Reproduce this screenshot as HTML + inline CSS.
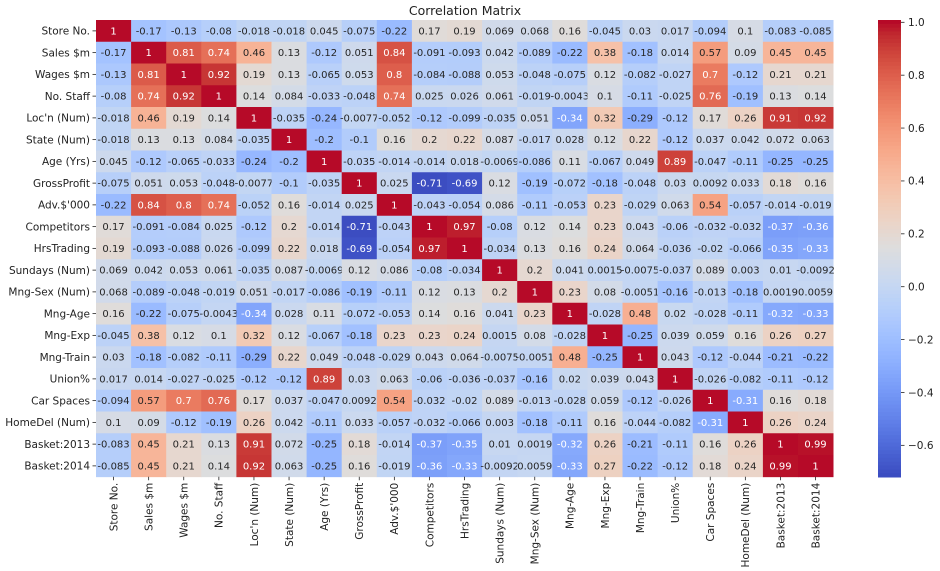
<!DOCTYPE html>
<html><head><meta charset="utf-8">
<style>
body{margin:0;background:#fff;}
svg{display:block;font-family:"DejaVu Sans","Liberation Sans",sans-serif;}
</style></head>
<body>
<svg id="chart" width="940" height="571" viewBox="0 0 940 571" xmlns="http://www.w3.org/2000/svg">
<text x="465" y="15" text-anchor="middle" font-size="12.5" fill="#222">Correlation Matrix</text>
<g id="cells"></g>
<g id="ylabels"></g>
<g id="xlabels"></g>
<g id="cbar"></g>
</svg>
<script>
const labels = ["Store No.","Sales $m","Wages $m","No. Staff","Loc'n (Num)","State (Num)","Age (Yrs)","GrossProfit","Adv.$'000","Competitors","HrsTrading","Sundays (Num)","Mng-Sex (Num)","Mng-Age","Mng-Exp","Mng-Train","Union%","Car Spaces","HomeDel (Num)","Basket:2013","Basket:2014"];
const row0 = [1,-0.17,-0.13,-0.08,-0.018,-0.018,0.045,-0.075,-0.22,0.17,0.19,0.069,0.068,0.16,-0.045,0.03,0.017,-0.094,0.1,-0.083,-0.085];
const row1 = [-0.17,1,0.81,0.74,0.46,0.13,-0.12,0.051,0.84,-0.091,-0.093,0.042,-0.089,-0.22,0.38,-0.18,0.014,0.57,0.09,0.45,0.45];
const row2 = [-0.13,0.81,1,0.92,0.19,0.13,-0.065,0.053,0.8,-0.084,-0.088,0.053,-0.048,-0.075,0.12,-0.082,-0.027,0.7,-0.12,0.21,0.21];
const row3 = [-0.08,0.74,0.92,1,0.14,0.084,-0.033,-0.048,0.74,0.025,0.026,0.061,-0.019,-0.0043,0.1,-0.11,-0.025,0.76,-0.19,0.13,0.14];
const row4 = [-0.018,0.46,0.19,0.14,1,-0.035,-0.24,-0.0077,-0.052,-0.12,-0.099,-0.035,0.051,-0.34,0.32,-0.29,-0.12,0.17,0.26,0.91,0.92];
const row5 = [-0.018,0.13,0.13,0.084,-0.035,1,-0.2,-0.1,0.16,0.2,0.22,0.087,-0.017,0.028,0.12,0.22,-0.12,0.037,0.042,0.072,0.063];
const row6 = [0.045,-0.12,-0.065,-0.033,-0.24,-0.2,1,-0.035,-0.014,-0.014,0.018,-0.0069,-0.086,0.11,-0.067,0.049,0.89,-0.047,-0.11,-0.25,-0.25];
const row7 = [-0.075,0.051,0.053,-0.048,-0.0077,-0.1,-0.035,1,0.025,-0.71,-0.69,0.12,-0.19,-0.072,-0.18,-0.048,0.03,0.0092,0.033,0.18,0.16];
const row8 = [-0.22,0.84,0.8,0.74,-0.052,0.16,-0.014,0.025,1,-0.043,-0.054,0.086,-0.11,-0.053,0.23,-0.029,0.063,0.54,-0.057,-0.014,-0.019];
const row9 = [0.17,-0.091,-0.084,0.025,-0.12,0.2,-0.014,-0.71,-0.043,1,0.97,-0.08,0.12,0.14,0.23,0.043,-0.06,-0.032,-0.032,-0.37,-0.36];
const row10 = [0.19,-0.093,-0.088,0.026,-0.099,0.22,0.018,-0.69,-0.054,0.97,1,-0.034,0.13,0.16,0.24,0.064,-0.036,-0.02,-0.066,-0.35,-0.33];
const row11 = [0.069,0.042,0.053,0.061,-0.035,0.087,-0.0069,0.12,0.086,-0.08,-0.034,1,0.2,0.041,0.0015,-0.0075,-0.037,0.089,0.003,0.01,-0.0092];
const row12 = [0.068,-0.089,-0.048,-0.019,0.051,-0.017,-0.086,-0.19,-0.11,0.12,0.13,0.2,1,0.23,0.08,-0.0051,-0.16,-0.013,-0.18,0.0019,0.0059];
const row13 = [0.16,-0.22,-0.075,-0.0043,-0.34,0.028,0.11,-0.072,-0.053,0.14,0.16,0.041,0.23,1,-0.028,0.48,0.02,-0.028,-0.11,-0.32,-0.33];
const row14 = [-0.045,0.38,0.12,0.1,0.32,0.12,-0.067,-0.18,0.23,0.23,0.24,0.0015,0.08,-0.028,1,-0.25,0.039,0.059,0.16,0.26,0.27];
const row15 = [0.03,-0.18,-0.082,-0.11,-0.29,0.22,0.049,-0.048,-0.029,0.043,0.064,-0.0075,-0.0051,0.48,-0.25,1,0.043,-0.12,-0.044,-0.21,-0.22];
const row16 = [0.017,0.014,-0.027,-0.025,-0.12,-0.12,0.89,0.03,0.063,-0.06,-0.036,-0.037,-0.16,0.02,0.039,0.043,1,-0.026,-0.082,-0.11,-0.12];
const row17 = [-0.094,0.57,0.7,0.76,0.17,0.037,-0.047,0.0092,0.54,-0.032,-0.02,0.089,-0.013,-0.028,0.059,-0.12,-0.026,1,-0.31,0.16,0.18];
const row18 = [0.1,0.09,-0.12,-0.19,0.26,0.042,-0.11,0.033,-0.057,-0.032,-0.066,0.003,-0.18,-0.11,0.16,-0.044,-0.082,-0.31,1,0.26,0.24];
const row19 = [-0.083,0.45,0.21,0.13,0.91,0.072,-0.25,0.18,-0.014,-0.37,-0.35,0.01,0.0019,-0.32,0.26,-0.21,-0.11,0.16,0.26,1,0.99];
const row20 = [-0.085,0.45,0.21,0.14,0.92,0.063,-0.25,0.16,-0.019,-0.36,-0.33,-0.0092,0.0059,-0.33,0.27,-0.22,-0.12,0.18,0.24,0.99,1];
const cbarTicks = [1.0,0.8,0.6,0.4,0.2,0.0,-0.2,-0.4,-0.6];
const cbarTickLabels = ["1.0","0.8","0.6","0.4","0.2","0.0","\u22120.2","\u22120.4","\u22120.6"];

const matrix = [row0,row1,row2,row3,row4,row5,row6,row7,row8,row9,row10,row11,row12,row13,row14,row15,row16,row17,row18,row19,row20];
const NS="http://www.w3.org/2000/svg";
const X0=96, Y0=20, CW=35.1, CH=21.75;
const VMIN=-0.715, VMAX=1.009;
const xPos = i => X0 + i*CW;
const yPos = j => Y0 + j*CH;
const stops=[[59,76,192],[68,90,204],[77,104,215],[87,117,225],[98,130,234],[108,142,241],[119,154,247],[130,165,251],[141,176,254],[152,185,255],[163,194,255],[174,201,253],[184,208,249],[194,213,244],[204,217,238],[213,219,230],[221,221,221],[229,216,209],[236,211,197],[241,204,184],[245,196,172],[247,187,160],[247,177,148],[247,166,135],[244,154,123],[241,141,111],[236,127,99],[229,112,88],[222,96,77],[213,80,66],[203,62,56],[192,40,47],[180,4,38]];
function color(v){
  let t=(v-VMIN)/(VMAX-VMIN); t=Math.max(0,Math.min(1,t));
  const f=t*32, i=Math.min(31,Math.floor(f)), r=f-i;
  const a=stops[i], b=stops[i+1];
  return `rgb(${Math.round(a[0]+(b[0]-a[0])*r)},${Math.round(a[1]+(b[1]-a[1])*r)},${Math.round(a[2]+(b[2]-a[2])*r)})`;
}
function mk(tag, attrs, parent){
  const e=document.createElementNS(NS,tag);
  for(const k in attrs) e.setAttribute(k, attrs[k]);
  parent.appendChild(e); return e;
}
const cells=document.getElementById('cells');
matrix.forEach((row,j)=>{
  row.forEach((v,i)=>{
    const r=mk('rect',{x:xPos(i),y:yPos(j),width:CW+0.4,height:CH+0.4,fill:color(v)},cells);
    
    
    const t=mk('text',{x:xPos(i)+CW/2,y:yPos(j)+CH/2+3.6,'text-anchor':'middle','font-size':'10',fill:(v>=0.6||v<=-0.3)?'#fff':'#262626'},cells);
    
    
    t.textContent=String(v);
  });
});
const yl=document.getElementById('ylabels'), xl=document.getElementById('xlabels');
labels.forEach((lab,j)=>{
  const cy=yPos(j)+CH/2;
  mk('line',{x1:X0-3.5,x2:X0,y1:cy,y2:cy,stroke:'#222','stroke-width':0.8},yl);
  const t=mk('text',{x:X0-6,y:cy+3.8,'text-anchor':'end','font-size':'10.5',fill:'#222'},yl);
  
  
  t.textContent=lab;
  const cx=xPos(j)+CW/2, by=Y0+21*CH;
  mk('line',{x1:cx,x2:cx,y1:by,y2:by+3.5,stroke:'#222','stroke-width':0.8},xl);
  const u=mk('text',{x:0,y:0,'text-anchor':'end','font-size':'10.5',fill:'#222',transform:`translate(${cx+3.8},${by+6}) rotate(-90)`},xl);
  
  
  u.textContent=lab;
});
// colorbar
const cb=document.getElementById('cbar');
const CBX=878, CBW=23, CBT=20, CBB=477;
const cbY = v => 22.3 + (1-v)*264.4;
const N=120;
for(let k=0;k<N;k++){
  const y=CBT+(CBB-CBT)*k/N;
  const v=1-(y+ (CBB-CBT)/N/2 -22.3)/264.4;
  mk('rect',{x:CBX,y:y,width:CBW,height:(CBB-CBT)/N+0.5,fill:color(v)},cb);
}
const cbr=mk('rect',{x:CBX,y:CBT,width:CBW,height:CBB-CBT,fill:'none'},cb);


cbarTicks.forEach((v,k)=>{
  const y=cbY(v);
  mk('line',{x1:CBX+CBW,x2:CBX+CBW+3.5,y1:y,y2:y,stroke:'#222','stroke-width':0.8},cb);
  const t=mk('text',{x:CBX+CBW+7,y:y+3.8,'font-size':'10.5',fill:'#222'},cb);
  
  
  t.textContent=cbarTickLabels[k];
});
</script>
</body></html>
